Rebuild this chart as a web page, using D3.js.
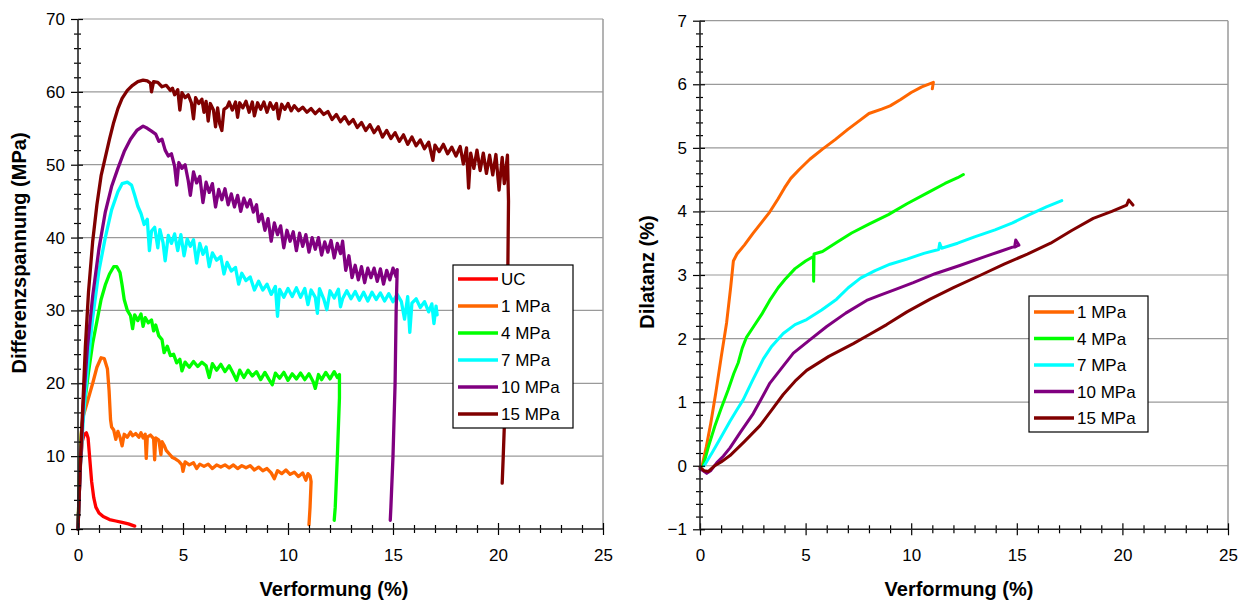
<!DOCTYPE html>
<html><head><meta charset="utf-8">
<script src="https://cdn.jsdelivr.net/npm/d3@7"></script>
<style>
body{margin:0;background:#fff;}
svg text{font-family:"Liberation Sans",Arial,sans-serif;}
</style></head>
<body><svg id="c" width="1246" height="602"></svg>
<script>
// ---------- data ----------
const seriesNamesLeft = ["UC","1 MPa","4 MPa","7 MPa","10 MPa","15 MPa"];
const seriesNamesRight = ["1 MPa","4 MPa","7 MPa","10 MPa","15 MPa"];
const colors = {"UC":"#ff0000","1 MPa":"#ff6600","4 MPa":"#00ff00","7 MPa":"#00ffff","10 MPa":"#800080","15 MPa":"#800000"};
const xTicks = [0,5,10,15,20,25];
const yTicksLeft = [0,10,20,30,40,50,60,70];
const yTicksRight = [-1,0,1,2,3,4,5,6,7];

const stressUC = [[0,0],[0.05,4],[0.12,9],[0.2,12],[0.3,13],[0.4,13.2],[0.48,12.5],[0.55,10],[0.65,6.5],[0.75,4.3],[0.85,3],[1.0,2.2],[1.2,1.7],[1.5,1.3],[1.8,1.1],[2.1,0.9],[2.4,0.7],[2.7,0.4]];
const stress1 = [[0,0],[0.08,8],[0.15,13],[0.25,15.5],[0.45,17.5],[0.7,20],[0.9,22.2],[1.1,23.5],[1.25,23.4],[1.4,22],[1.48,19],[1.55,15],[1.6,14],[1.7,13.6],[1.8,12.3],[1.9,13.4],[2.0,12.6],[2.1,11.4],[2.2,13],[2.35,12.6],[2.5,13.3],[2.6,12.8],[2.75,13.1],[2.9,12.6],[3.0,13.2],[3.1,12.5],[3.2,13.0],[3.25,9.7],[3.3,12.6],[3.45,12.9],[3.6,12.4],[3.65,9.5],[3.7,12.5],[3.85,12.2],[3.95,10.2],[4.0,12.0],[4.1,11.5],[4.2,10.8],[4.35,10.3],[4.5,9.8],[4.65,9.6],[4.8,9.3],[4.95,8.8],[5.0,7.9],[5.1,9.2],[5.3,8.8],[5.5,9.1],[5.65,8.3],[5.8,8.9],[6.0,8.6],[6.2,8.9],[6.4,8.3],[6.6,8.8],[6.8,8.5],[7.0,8.8],[7.2,8.4],[7.4,8.8],[7.6,8.3],[7.8,8.7],[8.0,8.4],[8.2,8.7],[8.4,8.1],[8.6,8.5],[8.8,8.0],[9.0,8.3],[9.2,7.7],[9.35,6.9],[9.5,8.0],[9.7,7.6],[9.9,8.1],[10.1,7.5],[10.3,7.8],[10.5,7.2],[10.7,7.7],[10.85,6.7],[10.95,7.6],[11.05,7.3],[11.1,6.5],[11.05,3],[11.0,0.6]];
const stress4 = [[0,0],[0.08,8],[0.18,14],[0.3,17],[0.5,21.5],[0.7,25.5],[0.9,28.5],[1.1,31.5],[1.3,33.5],[1.5,35],[1.7,36],[1.85,36],[2.0,35.2],[2.1,33.5],[2.2,31.5],[2.35,30],[2.5,29.3],[2.6,27.5],[2.7,29.4],[2.85,28.6],[3.0,29.5],[3.1,27.8],[3.2,29],[3.35,28.3],[3.5,28.7],[3.6,27.2],[3.7,28],[3.85,26.5],[4.0,26],[4.1,24.2],[4.25,25.1],[4.4,23.8],[4.55,24],[4.7,22.8],[4.85,23.3],[4.95,21.7],[5.1,22.9],[5.3,22.2],[5.5,23],[5.7,22.3],[5.9,22.9],[6.1,22.4],[6.25,20.8],[6.4,22.7],[6.6,21.8],[6.8,22.6],[7.0,21.6],[7.2,22.4],[7.4,21.3],[7.55,20.4],[7.7,21.8],[7.9,20.8],[8.1,21.8],[8.3,21],[8.5,21.6],[8.7,20.5],[8.9,21.5],[9.1,20.5],[9.25,19.8],[9.4,21.4],[9.6,20.7],[9.8,21.5],[10.0,20.4],[10.2,21.3],[10.4,20.6],[10.6,21.4],[10.8,20.5],[11.0,21.3],[11.2,20.2],[11.3,19.3],[11.45,21.2],[11.6,20.5],[11.8,21.5],[12.0,20.6],[12.2,21.6],[12.35,20.8],[12.45,21.2],[12.45,18],[12.35,10],[12.25,3],[12.2,1.2]];
const stress7 = [[0,0],[0.1,8],[0.25,15],[0.45,22],[0.7,29],[1.0,35.5],[1.3,40],[1.6,43.8],[1.9,46.3],[2.1,47.4],[2.35,47.6],[2.55,47.2],[2.7,45.8],[2.85,44.3],[3.0,43.3],[3.15,41.8],[3.3,42.5],[3.4,38.2],[3.5,40.9],[3.65,41.4],[3.8,38.6],[3.9,41.1],[4.05,39.3],[4.15,36.8],[4.3,40.3],[4.45,39.2],[4.6,40.5],[4.75,38.2],[4.9,40.4],[5.05,37.5],[5.2,39.8],[5.35,38.8],[5.5,39.7],[5.65,36.5],[5.8,39.2],[5.95,37.7],[6.1,38.7],[6.25,36],[6.4,37.9],[6.6,36.9],[6.8,37.4],[6.95,35],[7.1,36.6],[7.3,35.4],[7.5,35.9],[7.65,33.6],[7.8,35.1],[8.0,34.1],[8.2,34.6],[8.4,32.8],[8.6,34],[8.8,32.8],[9.0,33.6],[9.2,32.2],[9.4,33.3],[9.5,29.2],[9.6,32.9],[9.8,31.8],[10.0,33],[10.2,31.9],[10.4,33.1],[10.6,31.8],[10.8,33],[10.95,30.8],[11.1,32.8],[11.3,31.8],[11.4,29.6],[11.5,33],[11.7,31.6],[11.85,30.1],[12.0,32.7],[12.2,31.7],[12.4,32.9],[12.5,30.5],[12.6,31.6],[12.8,32.7],[13.0,31.6],[13.2,32.6],[13.4,31.4],[13.6,32.5],[13.8,31.3],[14.0,32.5],[14.2,31.5],[14.4,32.4],[14.6,31.3],[14.8,32.3],[15.0,31.2],[15.2,32.2],[15.4,31.2],[15.55,28.8],[15.7,31.9],[15.8,27],[15.9,31],[16.1,31.6],[16.3,30.4],[16.5,31.2],[16.7,29.8],[16.85,30.9],[16.95,28.2],[17.05,30.6],[17.1,29.4]];
const stress10 = [[0,0],[0.1,8],[0.25,17],[0.45,25],[0.7,32],[1.0,38.5],[1.3,43.5],[1.6,47],[1.9,49.5],[2.2,51.8],[2.5,53.5],[2.8,54.7],[3.1,55.3],[3.3,55],[3.5,54.6],[3.7,54.2],[3.85,53.2],[4.0,53.5],[4.15,52],[4.3,51.2],[4.45,51.5],[4.6,49.8],[4.7,47.2],[4.8,50.3],[4.95,49.5],[5.1,50],[5.25,47.8],[5.35,45.8],[5.5,49],[5.65,47.5],[5.8,48.4],[5.95,44.8],[6.1,47.6],[6.25,46.2],[6.4,47.4],[6.55,44.2],[6.7,46.6],[6.85,45.2],[7.0,46.7],[7.15,44.5],[7.3,46],[7.45,44.2],[7.6,45.8],[7.75,43.6],[7.9,45.4],[8.05,44.2],[8.2,45.2],[8.35,43.5],[8.5,44.5],[8.6,42.2],[8.75,43.2],[8.9,41],[9.05,42.6],[9.2,39.5],[9.35,42],[9.5,40.4],[9.65,41.6],[9.8,38.6],[9.95,41],[10.1,39.5],[10.25,40.8],[10.4,38.2],[10.55,40.6],[10.7,38.8],[10.85,40.4],[11.0,38],[11.15,40],[11.3,38.4],[11.45,40],[11.6,37.6],[11.75,39.4],[11.9,38],[12.05,39.6],[12.2,37.2],[12.35,39.2],[12.5,37.8],[12.6,39.5],[12.75,35.5],[12.9,37.5],[13.05,34.5],[13.2,36.2],[13.35,34.2],[13.5,36],[13.65,33.8],[13.8,35.8],[13.95,34.5],[14.1,35.8],[14.25,34],[14.4,35.7],[14.55,33.6],[14.7,35.5],[14.85,34.2],[15.0,35.8],[15.15,34.6],[15.2,35.6],[15.15,30],[15.1,20],[15.0,10],[14.9,3],[14.87,1.2]];
const stress15 = [[0,0],[0.1,8],[0.2,15],[0.35,25],[0.5,32.5],[0.7,39.5],[0.9,44.5],[1.1,48.5],[1.3,51],[1.5,53.5],[1.7,55.8],[1.9,57.7],[2.1,59.1],[2.35,60.2],[2.6,60.9],[2.85,61.4],[3.1,61.6],[3.3,61.5],[3.45,61.2],[3.5,60],[3.6,61.4],[3.8,61.3],[4.0,60.7],[4.2,60.9],[4.4,60.2],[4.5,60.5],[4.6,59.6],[4.75,60.3],[4.85,57.5],[4.95,59.9],[5.1,59.2],[5.25,59.6],[5.4,58.5],[5.5,56.3],[5.6,59.2],[5.75,58.4],[5.9,59],[6.0,57.2],[6.1,58.7],[6.2,56],[6.3,58.4],[6.45,57.5],[6.55,55.2],[6.65,57.8],[6.75,55.6],[6.85,54.7],[6.95,57.6],[7.1,57.9],[7.2,58.6],[7.35,57.5],[7.5,58.6],[7.6,56.5],[7.7,58.5],[7.85,57.8],[8.0,58.7],[8.15,57.2],[8.3,58.6],[8.4,56.7],[8.55,58.5],[8.7,57.6],[8.85,58.6],[9.0,57.2],[9.15,58.5],[9.3,57.6],[9.45,58.4],[9.55,56.3],[9.7,58.3],[9.85,57.6],[10.0,58.4],[10.15,57.4],[10.3,58.1],[10.5,57.4],[10.7,57.9],[10.9,57.2],[11.1,57.7],[11.3,57.0],[11.5,57.6],[11.7,56.9],[11.9,57.3],[12.1,56.2],[12.3,56.9],[12.5,55.9],[12.7,56.6],[12.9,55.6],[13.1,56.2],[13.3,55.1],[13.5,55.8],[13.7,54.7],[13.9,55.5],[14.1,54.4],[14.3,55.2],[14.5,53.8],[14.7,54.7],[14.9,53.6],[15.1,54.4],[15.3,53.2],[15.5,54.1],[15.7,52.8],[15.9,53.8],[16.1,52.6],[16.3,53.4],[16.5,52.2],[16.7,53.1],[16.9,50.6],[17.0,52.7],[17.2,51.8],[17.4,52.8],[17.6,51.5],[17.8,52.4],[18.0,51.2],[18.2,52.5],[18.35,50.1],[18.5,52.3],[18.6,46.8],[18.7,51.6],[18.85,49.5],[19.0,52],[19.15,49.2],[19.3,51.6],[19.45,48.8],[19.6,51.3],[19.75,48.6],[19.9,51.4],[20.05,46.5],[20.2,51],[20.3,47.4],[20.45,51.3],[20.5,45],[20.45,30],[20.35,18],[20.25,10],[20.2,6.3]];

const dil1 = [[0.1,0],[0.3,0.3],[0.5,0.65],[0.75,1.15],[1.0,1.7],[1.26,2.25],[1.45,2.8],[1.58,3.22],[1.75,3.33],[2.1,3.47],[2.5,3.65],[2.9,3.82],[3.3,3.99],[3.7,4.2],[4.0,4.37],[4.3,4.52],[4.7,4.66],[5.2,4.82],[5.8,4.98],[6.4,5.13],[7.0,5.29],[7.6,5.44],[8.0,5.54],[8.6,5.61],[9.0,5.66],[9.5,5.76],[10.0,5.87],[10.5,5.96],[10.9,6.01],[11.05,6.03],[11.0,5.93]];
const dil4 = [[0.15,0],[0.4,0.3],[0.7,0.62],[1.0,0.9],[1.34,1.2],[1.6,1.45],[1.81,1.62],[2.0,1.85],[2.2,2.02],[2.5,2.17],[2.92,2.38],[3.3,2.6],[3.7,2.8],[4.02,2.93],[4.5,3.1],[5.0,3.22],[5.37,3.29],[5.38,2.9],[5.4,3.33],[5.8,3.37],[6.5,3.52],[7.18,3.66],[8.0,3.8],[8.92,3.95],[9.8,4.12],[10.81,4.3],[11.6,4.44],[12.2,4.53],[12.47,4.58]];
const dil7 = [[0.2,0],[0.6,0.22],[1.0,0.45],[1.42,0.7],[1.75,0.88],[2.05,1.04],[2.5,1.35],[3.0,1.68],[3.4,1.88],[3.94,2.08],[4.5,2.22],[5.05,2.3],[5.76,2.45],[6.47,2.62],[7.02,2.8],[7.6,2.95],[8.29,3.07],[9.0,3.17],[9.8,3.25],[10.6,3.34],[11.3,3.4],[11.35,3.5],[11.44,3.42],[12.2,3.5],[13.0,3.6],[13.97,3.71],[14.8,3.82],[15.6,3.95],[16.4,4.07],[17.13,4.17]];
const dil10 = [[0,-0.05],[0.15,-0.08],[0.32,-0.12],[0.5,-0.08],[0.8,0.05],[1.1,0.15],[1.42,0.28],[1.9,0.52],[2.52,0.82],[2.9,1.05],[3.31,1.3],[3.9,1.55],[4.42,1.77],[5.2,1.98],[6.0,2.19],[6.9,2.4],[7.89,2.6],[8.5,2.68],[9.23,2.77],[10.1,2.88],[11.13,3.02],[12.3,3.15],[13.49,3.29],[14.2,3.37],[14.9,3.45],[14.95,3.55],[15.1,3.47],[14.9,3.44]];
const dil15 = [[0,-0.02],[0.2,-0.08],[0.4,-0.09],[0.7,0.0],[1.0,0.06],[1.42,0.16],[2.1,0.38],[2.84,0.63],[3.4,0.88],[3.94,1.12],[4.5,1.33],[5.05,1.5],[6.1,1.72],[7.26,1.92],[8.0,2.06],[8.84,2.22],[9.8,2.42],[10.9,2.62],[12.0,2.8],[13.3,3.0],[14.4,3.17],[15.5,3.33],[16.6,3.5],[17.6,3.7],[18.62,3.89],[19.5,4.0],[20.2,4.1],[20.3,4.18],[20.5,4.1]];

const leftData = [stressUC,stress1,stress4,stress7,stress10,stress15];
const rightData = [dil1,dil4,dil7,dil10,dil15];

// ---------- drawing ----------
const svg = d3.select("#c");

function panel(opt){
  const g = svg.append("g");
  const x = d3.scaleLinear().domain([0,25]).range([opt.x0,opt.x1]);
  const y = d3.scaleLinear().domain(opt.ydom).range([opt.y0,opt.y1]);
  g.selectAll("line.grid").data(opt.yTicks.filter(v=>v!==opt.ydom[0])).enter().append("line")
    .attr("x1",opt.x0).attr("x2",opt.x1).attr("y1",d=>y(d)).attr("y2",d=>y(d))
    .attr("stroke","#9a9a9a").attr("stroke-width",1.2);
  g.append("line").attr("x1",opt.x1).attr("x2",opt.x1).attr("y1",opt.y1).attr("y2",opt.y0)
    .attr("stroke","#9a9a9a").attr("stroke-width",1.5);
  const line = d3.line().x(d=>x(d[0])).y(d=>y(d[1]));
  opt.data.forEach((s,i)=>{
    g.append("path").attr("d",line(s)).attr("fill","none")
      .attr("stroke",colors[opt.names[i]]).attr("stroke-width",opt.lw)
      .attr("stroke-linejoin","round").attr("stroke-linecap","round");
  });
  const xa = g.append("g").attr("transform",`translate(0,${opt.y0})`)
    .call(d3.axisBottom(x).tickValues(d3.range(0,26,1)).tickSize(0).tickFormat(""));
  xa.select(".domain").remove();
  xa.selectAll(".tick line").remove();
  xa.selectAll(".tick").append("line").attr("y1",d=>d%5===0?-6:-4).attr("y2",d=>d%5===0?6:4)
    .attr("stroke","#000").attr("stroke-width",1.2);
  const xl = g.append("g").attr("transform",`translate(0,${opt.y0})`)
    .call(d3.axisBottom(x).tickValues(opt.xTicks).tickSize(0).tickPadding(20));
  xl.select(".domain").remove();
  xl.selectAll("text").attr("font-size",17).attr("fill","#000").attr("font-family","Liberation Sans, Arial");
  g.append("line").attr("x1",opt.x0).attr("x2",opt.x1).attr("y1",opt.y0).attr("y2",opt.y0)
    .attr("stroke","#222").attr("stroke-width",1.6);

  const minor = d3.range(opt.ydom[0],opt.ydom[1]+1e-9,opt.minorStep).map(v=>+v.toFixed(3));
  const ya = g.append("g").attr("transform",`translate(${opt.x0},0)`)
    .call(d3.axisLeft(y).tickValues(minor).tickSize(0).tickFormat(""));
  ya.select(".domain").remove();
  ya.selectAll(".tick").append("line")
    .attr("x1",d=>opt.yTicks.some(t=>Math.abs(t-d)<1e-6)?-7:-4)
    .attr("x2",d=>opt.yTicks.some(t=>Math.abs(t-d)<1e-6)?5:3)
    .attr("stroke","#000").attr("stroke-width",1.2);
  const yl = g.append("g").attr("transform",`translate(${opt.x0},0)`)
    .call(d3.axisLeft(y).tickValues(opt.yTicks).tickSize(0).tickPadding(13));
  yl.select(".domain").remove();
  yl.selectAll("text").attr("font-size",17).attr("fill","#000").attr("font-family","Liberation Sans, Arial");
  g.append("line").attr("x1",opt.x0).attr("x2",opt.x0).attr("y1",opt.y0).attr("y2",opt.y1)
    .attr("stroke","#222").attr("stroke-width",1.6);

  g.append("text").attr("x",opt.xtX).attr("y",596).attr("text-anchor","middle")
    .attr("font-size",20).attr("font-weight","bold").text("Verformung (%)");
  g.append("text").attr("transform",`translate(${opt.ytX},${opt.ytY}) rotate(-90)`).attr("text-anchor","middle")
    .attr("font-size",20).attr("font-weight","bold").text(opt.ytitle);

  const L = opt.legend;
  g.append("rect").attr("x",L.x).attr("y",L.y).attr("width",L.w).attr("height",L.h)
    .attr("fill","#fff").attr("stroke","#000").attr("stroke-width",1.2);
  opt.names.forEach((n,i)=>{
    const yy = L.y + L.first + i*L.step;
    g.append("line").attr("x1",L.x+5).attr("x2",L.x+45).attr("y1",yy).attr("y2",yy)
      .attr("stroke",colors[n]).attr("stroke-width",3.5);
    g.append("text").attr("x",L.x+48).attr("y",yy+6).attr("font-size",17).text(n);
  });
}

panel({x0:78,x1:603,y0:529,y1:19,ydom:[0,70],yTicks:yTicksLeft,xTicks:xTicks,minorStep:2,lw:3.3,
  data:leftData,names:seriesNamesLeft,ytitle:"Differenzspannung (MPa)",xtX:334,ytX:26,ytY:253,
  legend:{x:453,y:265,w:120,h:163,first:14,step:27}});
panel({x0:700,x1:1228,y0:529.3,y1:20.7,ydom:[-1,7],yTicks:yTicksRight,xTicks:xTicks,minorStep:0.2,lw:3,
  data:rightData,names:seriesNamesRight,ytitle:"Dilatanz (%)",xtX:959,ytX:654,ytY:272,
  legend:{x:1029,y:296,w:119,h:136,first:16,step:26.5}});
</script></body></html>
